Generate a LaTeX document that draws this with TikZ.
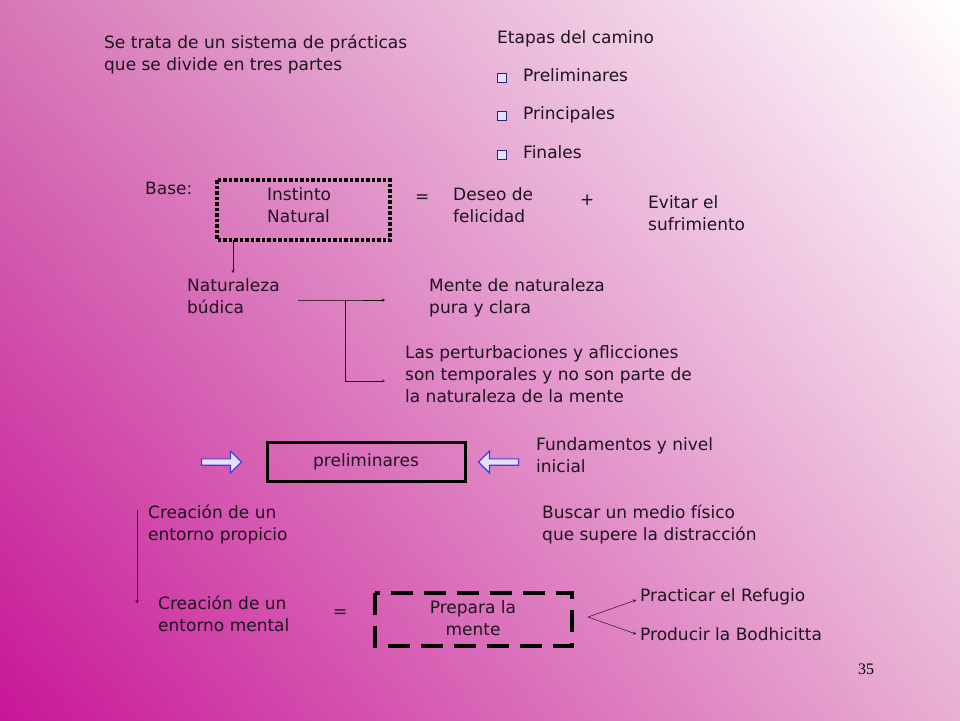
\documentclass[tikz,border=0pt]{standalone}
\usepackage{fontspec}
\setmainfont{DejaVu Sans}
\newfontfamily\pagefont{Liberation Serif}
\usetikzlibrary{positioning,shapes.arrows,shadings}

\definecolor{magentabg}{RGB}{200,22,152}
\definecolor{pinkbg}{RGB}{232,176,210}
\definecolor{midbg}{RGB}{214,120,182}
\definecolor{bulletblue}{RGB}{70,60,220}
\definecolor{txt}{RGB}{30,20,30}

\tikzset{
  txtnode/.style={anchor=north west,align=left,inner sep=0pt,text=txt,font=\fontsize{17}{22}\selectfont},
  bullet/.style={draw=bulletblue!60!black,fill=bulletblue!15,line width=1.6pt,minimum size=9pt,inner sep=0pt},
  hollowarrow/.style={single arrow,draw=bulletblue,fill=bulletblue!15,line width=1.2pt,minimum height=40pt,minimum width=22pt,single arrow head extend=4pt,inner sep=1pt}
}

\begin{document}
\begin{tikzpicture}[x=1pt,y=-1pt,>=stealth]
   \shade[lower left=magentabg,lower right=pinkbg,upper left=midbg,upper right=white] (0,0) rectangle (960,720);
   \useasboundingbox (0,0) rectangle (960,720);
   % intro
   \node[txtnode] (intro) at (104,35) {Se trata de un sistema de prácticas\\que se divide en tres partes};
   \node[txtnode] (etapas) at (497,30) {Etapas del camino};
   \foreach \y/\t [count=\i] in {68/Preliminares,106/Principales,145/Finales} {
     \node[bullet] (b\i) at (502,\y+10) {};
     \node[txtnode] (item\i) at (523,\y) {\t};
   }
   % base
   \node[txtnode] (base) at (145,182) {Base:};
   \draw[line width=3.5pt,dotted] (217,180) rectangle (390,240);
   \node[txtnode] (instinto) at (267,187) {Instinto\\Natural};
   \coordinate (boxb) at (233,240);
   \node[txtnode] (eq1) at (415,195) {=};
   \node[txtnode] (deseo) at (453,187) {Deseo de\\felicidad};
   \node[txtnode] (plus) at (580,195) {+};
   \node[txtnode] (evitar) at (648,195) {Evitar el\\sufrimiento};
   % naturaleza
   \node[txtnode] (natur) at (187,278) {Naturaleza\\búdica};
   \coordinate (naturtop) at (233,273);
   \draw[->] (boxb) -- (naturtop);
   \node[txtnode] (mente) at (429,278) {Mente de naturaleza\\pura y clara};
   \node[txtnode] (pertur) at (405,345) {Las perturbaciones y aflicciones\\son temporales y no son parte de\\la naturaleza de la mente};
   \coordinate (fork) at (345,300);
   \draw[->] (298,300) -- (fork) -- (385,300);
   \draw[->] (fork) -- (345,381) -- (385,381);
   % preliminares
   \node[draw,line width=3pt,minimum width=198pt,minimum height=39pt,text=txt,font=\fontsize{17}{22}\selectfont] (prelim) at (366,462) {preliminares};
   \node[hollowarrow] (arrR) at (220,462) {};
   \node[hollowarrow,shape border rotate=180] (arrL) at (500,462) {};
   \node[txtnode] (fund) at (536,437) {Fundamentos y nivel\\inicial};
   % entorno
   \node[txtnode] (propicio) at (148,505) {Creación de un\\entorno propicio};
   \node[txtnode] (buscar) at (542,505) {Buscar un medio físico\\que supere la distracción};
   \coordinate (dtop) at (137,510);
   \coordinate (dbot) at (137,603);
   \draw[->] (dtop) -- (dbot);
   \node[txtnode] (mental) at (158,596) {Creación de un\\entorno mental};
   \node[txtnode] (eq2) at (333,610) {=};
   \draw[line width=3.5pt,dash pattern=on 22pt off 11pt] (375,593) rectangle (572,646);
   \node[align=center,text=txt,font=\fontsize{17}{22}\selectfont] (prepara) at (473,618) {Prepara la\\mente};
   \node[txtnode] (refugio) at (640,588) {Practicar el Refugio};
   \node[txtnode] (bodhi) at (640,627) {Producir la Bodhicitta};
   \coordinate (split) at (588,617);
   \draw[->] (split) -- (636,600);
   \draw[->] (split) -- (636,634);
   \node[anchor=north west,inner sep=0pt,font=\pagefont\fontsize{16}{18}\selectfont] (page) at (858,664) {35};
\end{tikzpicture}
\end{document}
